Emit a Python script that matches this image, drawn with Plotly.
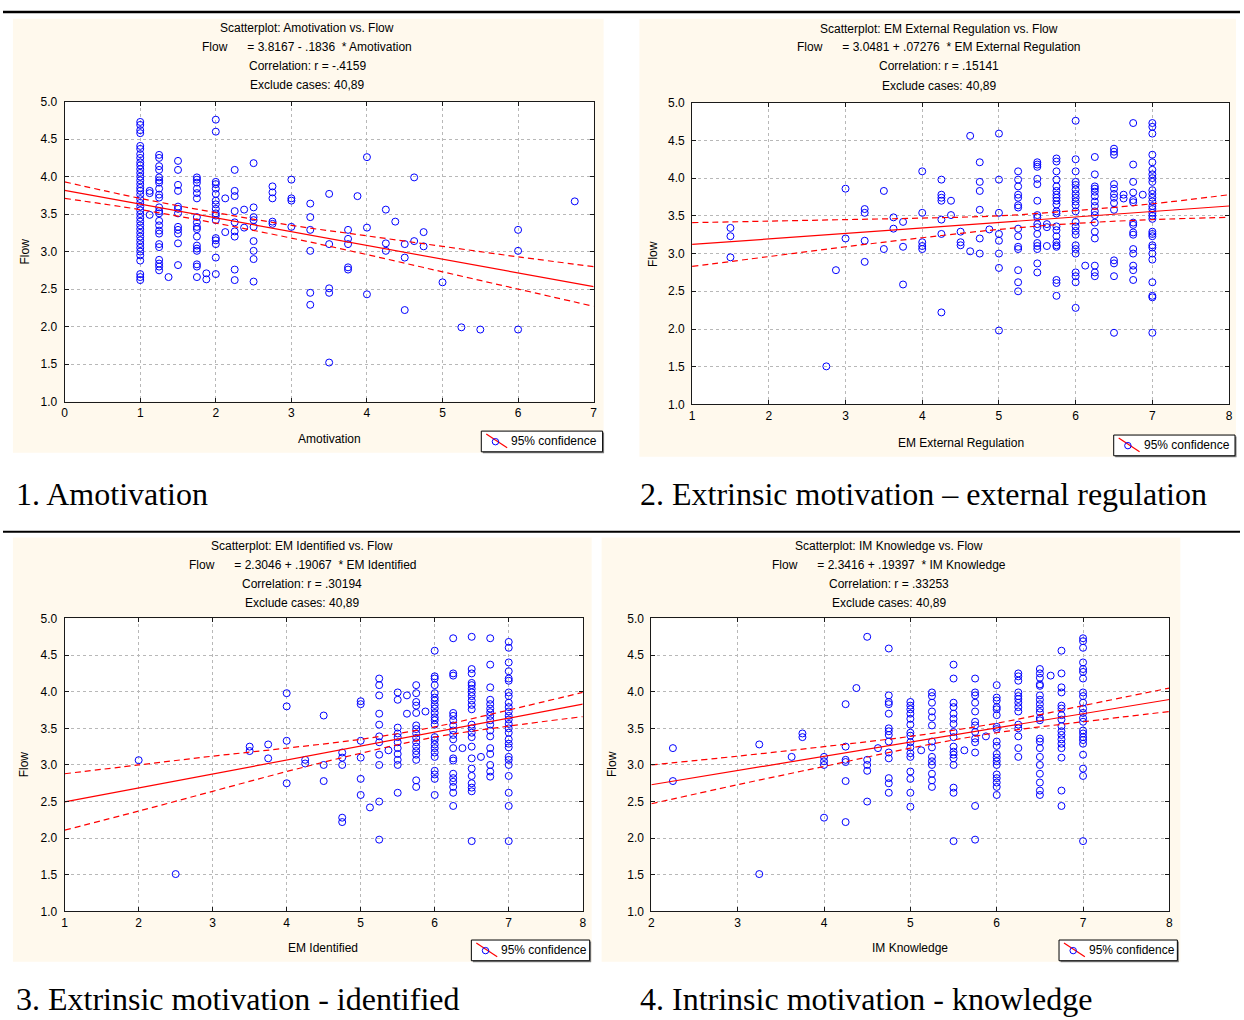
import plotly.graph_objects as go

W, H = 1244, 1020
SANS = "Liberation Sans, Arial, sans-serif"
SERIF = "Liberation Serif, Times New Roman, serif"

# ---------------- data ----------------
# Panel 1: Amotivation vs Flow
amot_cols = [1.0, 1.125, 1.25, 1.375, 1.5, 1.75, 1.875, 2.0, 2.125, 2.25, 2.375, 2.5, 2.75, 3.0,
             3.25, 3.5, 3.75, 3.875, 4.0, 4.25, 4.375, 4.5, 4.625, 4.75, 5.0, 5.25, 5.5, 6.0, 6.75]
amot_flow = [
    [4.73, 4.69, 4.62, 4.58, 4.41, 4.37, 4.30, 4.25, 4.19, 4.15, 4.10, 4.05, 4.00, 3.95, 3.90, 3.85,
     3.81, 3.76, 3.70, 3.65, 3.60, 3.55, 3.50, 3.45, 3.40, 3.35, 3.30, 3.25, 3.20, 3.15, 3.10, 3.05,
     3.00, 2.95, 2.88, 2.70, 2.66, 2.62],
    [3.81, 3.78, 3.49],
    [4.29, 4.25, 4.14, 4.09, 3.99, 3.95, 3.92, 3.84, 3.76, 3.72, 3.59, 3.54, 3.51, 3.41, 3.35, 3.28,
     3.24, 3.10, 3.06, 2.89, 2.84, 2.80, 2.75],
    [2.66],
    [4.21, 4.09, 3.89, 3.81, 3.60, 3.57, 3.51, 3.33, 3.29, 3.24, 3.11, 2.82],
    [3.99, 3.96, 3.92, 3.84, 3.78, 3.71, 3.46, 3.39, 3.33, 3.30, 3.20, 3.08, 3.04, 3.01, 2.83, 2.80, 2.66],
    [2.71, 2.63],
    [4.76, 4.60, 3.93, 3.90, 3.84, 3.77, 3.68, 3.63, 3.57, 3.51, 3.48, 3.42, 3.18, 3.15, 3.10, 2.92, 2.70],
    [3.71, 3.26],
    [4.09, 3.81, 3.74, 3.54, 3.39, 3.27, 3.20, 2.76, 2.62],
    [3.56, 3.32],
    [4.18, 3.59, 3.46, 3.42, 3.33, 3.14, 3.01, 2.90, 2.60],
    [3.87, 3.79, 3.71, 3.40, 3.37],
    [3.96, 3.71, 3.68, 3.33],
    [3.64, 3.46, 3.29, 3.01, 2.45, 2.29],
    [3.77, 3.10, 2.51, 2.45, 1.52],
    [3.29, 3.17, 3.10, 2.79, 2.76],
    [3.74],
    [4.26, 3.32, 2.43],
    [3.56, 3.11, 3.01],
    [3.40],
    [3.10, 2.92, 2.22],
    [3.99, 3.14],
    [3.26, 3.07],
    [2.59],
    [1.99],
    [1.96],
    [3.29, 3.01, 1.96],
    [3.67],
]

# Panel 2: EM External Regulation vs Flow
ext_cols = [1.5, 2.75, 2.875, 3.0, 3.25, 3.5, 3.625, 3.75, 4.0, 4.25, 4.375, 4.5, 4.625, 4.75, 4.875,
            5.0, 5.25, 5.5, 5.625, 5.75, 6.0, 6.125, 6.25, 6.5, 6.625, 6.75, 6.875, 7.0]
ext_flow = [
    [3.34, 3.23, 2.95],
    [1.505],
    [2.78],
    [3.86, 3.20],
    [3.59, 3.54, 3.17, 2.89],
    [3.83, 3.06],
    [3.48, 3.33],
    [3.42, 3.09, 2.59],
    [4.09, 3.54, 3.15, 3.10, 3.06],
    [3.98, 3.78, 3.74, 3.70, 3.45, 3.26, 2.22],
    [3.70, 3.51],
    [3.29, 3.15, 3.11],
    [4.56, 3.03],
    [4.21, 3.95, 3.83, 3.58, 3.20, 3.00],
    [3.32],
    [4.59, 3.98, 3.54, 3.26, 3.17, 3.00, 2.81, 1.98],
    [4.09, 3.98, 3.89, 3.78, 3.74, 3.64, 3.61, 3.33, 3.23, 3.09, 3.06, 2.78, 2.62, 2.50],
    [4.21, 4.18, 4.15, 3.99, 3.92, 3.70, 3.51, 3.48, 3.39, 3.35, 3.26, 3.14, 3.10, 3.06, 2.87, 2.75],
    [3.39, 3.35, 3.10],
    [4.26, 4.22, 4.09, 3.98, 3.89, 3.83, 3.78, 3.74, 3.70, 3.65, 3.56, 3.53, 3.36, 3.31, 3.23, 3.15,
     3.11, 3.09, 2.65, 2.61, 2.44],
    [4.76, 4.25, 4.09, 3.95, 3.91, 3.85, 3.79, 3.74, 3.69, 3.64, 3.56, 3.42, 3.36, 3.30, 3.25, 3.11,
     3.06, 3.00, 2.75, 2.70, 2.62, 2.28],
    [2.84],
    [4.28, 4.05, 3.89, 3.86, 3.82, 3.76, 3.69, 3.63, 3.56, 3.51, 3.41, 3.29, 3.20, 2.84, 2.75, 2.70],
    [4.39, 4.35, 4.31, 3.92, 3.86, 3.79, 3.74, 3.67, 3.58, 2.91, 2.87, 2.70, 1.95],
    [3.78, 3.73],
    [4.73, 4.18, 3.95, 3.81, 3.71, 3.68, 3.41, 3.38, 3.28, 3.25, 3.06, 3.00, 2.84, 2.78, 2.65],
    [3.78],
    [4.73, 4.68, 4.59, 4.31, 4.21, 4.11, 4.05, 4.00, 3.95, 3.84, 3.79, 3.74, 3.69, 3.63, 3.59, 3.54,
     3.50, 3.46, 3.29, 3.26, 3.23, 3.11, 3.08, 3.00, 2.92, 2.62, 2.44, 2.42, 1.95],
]

# Panel 3: EM Identified vs Flow
ident_cols = [2.0, 2.5, 3.5, 3.75, 4.0, 4.25, 4.5, 4.75, 5.0, 5.125, 5.25, 5.375, 5.5, 5.625, 5.75,
              5.875, 6.0, 6.25, 6.375, 6.5, 6.625, 6.75, 7.0]
ident_flow = [
    [3.065],
    [1.51],
    [3.25, 3.19],
    [3.28, 3.09],
    [3.98, 3.80, 3.33, 2.75],
    [3.07, 3.02],
    [3.675, 3.00, 2.78],
    [3.17, 3.10, 3.00, 2.28, 2.22],
    [3.87, 3.83, 3.33, 3.10, 2.81, 2.59],
    [2.42],
    [4.18, 4.09, 3.95, 3.70, 3.55, 3.39, 3.31, 3.14, 3.00, 2.50, 1.98],
    [3.20],
    [3.99, 3.89, 3.51, 3.43, 3.38, 3.31, 3.23, 3.15, 3.07, 3.00, 2.62],
    [3.95, 3.70],
    [4.09, 3.98, 3.86, 3.81, 3.71, 3.54, 3.49, 3.43, 3.37, 3.31, 3.25, 3.19, 3.14, 3.07, 2.79, 2.70],
    [3.73],
    [4.56, 4.21, 4.18, 4.09, 3.98, 3.92, 3.88, 3.82, 3.77, 3.71, 3.65, 3.61, 3.55, 3.38, 3.34, 3.28,
     3.23, 3.17, 3.11, 2.92, 2.87, 2.81, 2.59],
    [4.73, 4.25, 4.22, 3.71, 3.67, 3.61, 3.54, 3.47, 3.41, 3.35, 3.23, 3.09, 3.06, 2.88, 2.82, 2.77,
     2.70, 2.62, 2.44],
    [3.23],
    [4.75, 4.31, 4.25, 4.12, 4.09, 4.04, 3.99, 3.94, 3.88, 3.82, 3.76, 3.55, 3.50, 3.44, 3.38, 3.25,
     3.09, 2.95, 2.85, 2.75, 2.69, 2.64, 1.96],
    [3.11],
    [4.73, 4.37, 4.06, 3.89, 3.83, 3.77, 3.72, 3.67, 3.61, 3.55, 3.47, 3.39, 3.23, 3.15, 3.00, 2.91, 2.84],
    [4.68, 4.60, 4.40, 4.28, 4.18, 4.15, 3.99, 3.94, 3.85, 3.79, 3.73, 3.67, 3.62, 3.56, 3.50, 3.44,
     3.35, 3.29, 3.24, 3.11, 3.07, 3.00, 2.85, 2.62, 2.44, 1.96],
]

# Panel 4: IM Knowledge vs Flow
know_cols = [2.25, 3.25, 3.625, 3.75, 4.0, 4.25, 4.375, 4.5, 4.625, 4.75, 5.0, 5.125, 5.25, 5.5, 5.625,
             5.75, 5.875, 6.0, 6.25, 6.5, 6.625, 6.75, 7.0]
know_flow = [
    [3.23, 2.78],
    [3.28, 1.51],
    [3.11],
    [3.43, 3.38],
    [3.11, 3.05, 3.00, 2.28],
    [3.83, 3.25, 3.07, 3.04, 2.78, 2.22],
    [4.05],
    [4.75, 3.07, 3.00, 2.92, 2.50],
    [3.23],
    [4.59, 3.95, 3.86, 3.83, 3.70, 3.50, 3.46, 3.41, 3.32, 3.17, 3.09, 2.82, 2.75, 2.62],
    [3.86, 3.81, 3.76, 3.70, 3.63, 3.55, 3.44, 3.40, 3.31, 3.24, 3.16, 3.11, 2.91, 2.81, 2.62, 2.43],
    [3.20],
    [3.99, 3.94, 3.85, 3.73, 3.65, 3.54, 3.32, 3.24, 3.11, 3.05, 3.00, 2.88, 2.79, 2.70],
    [4.37, 4.18, 3.85, 3.79, 3.70, 3.63, 3.56, 3.45, 3.38, 3.25, 3.18, 3.14, 3.09, 3.00, 2.69, 2.62, 1.96],
    [3.20],
    [4.18, 3.99, 3.95, 3.85, 3.73, 3.59, 3.54, 3.45, 3.36, 3.31, 3.17, 2.44, 1.98],
    [3.39],
    [4.09, 3.92, 3.88, 3.79, 3.76, 3.68, 3.52, 3.49, 3.32, 3.26, 3.15, 3.10, 3.05, 3.00, 2.87, 2.82,
     2.76, 2.70, 2.59],
    [4.25, 4.21, 4.15, 3.99, 3.94, 3.90, 3.85, 3.79, 3.73, 3.55, 3.50, 3.39, 3.23, 3.11],
    [4.31, 4.25, 4.19, 4.10, 4.08, 3.95, 3.89, 3.83, 3.77, 3.72, 3.64, 3.61, 3.36, 3.32, 3.23, 3.11,
     3.00, 2.88, 2.76, 2.65, 2.59],
    [4.22],
    [4.56, 4.25, 4.06, 3.99, 3.81, 3.77, 3.68, 3.62, 3.53, 3.46, 3.41, 3.35, 3.29, 3.23, 3.10, 2.65, 2.44],
    [4.73, 4.69, 4.60, 4.40, 4.31, 4.27, 4.18, 3.99, 3.94, 3.85, 3.77, 3.71, 3.64, 3.59, 3.47, 3.43,
     3.38, 3.34, 3.29, 3.14, 2.95, 2.85, 1.96],
]

# regression coefficients (from the chart text)
intercepts = [3.8167, 3.0481, 2.3046, 2.3416]
slopes = [-0.1836, 0.07276, 0.19067, 0.19397]
slope_labels = [".1836", ".07276", ".19067", ".19397"]
correlations = ["-.4159", ".15141", ".30194", ".33253"]

# 95% confidence band
amot_band_x = [0, 1, 2, 3, 4, 5, 6, 7]
amot_band_hi = [3.93, 3.71, 3.52, 3.35, 3.21, 3.07, 2.93, 2.80]
amot_band_lo = [3.71, 3.56, 3.38, 3.18, 2.96, 2.73, 2.50, 2.27]
ext_band_x = [1, 2, 3, 4, 5, 6, 7, 8]
ext_band_hi = [3.41, 3.43, 3.45, 3.47, 3.50, 3.57, 3.66, 3.78]
ext_band_lo = [2.83, 2.96, 3.09, 3.21, 3.32, 3.40, 3.45, 3.48]
ident_band_x = [1, 2, 3, 4, 5, 6, 7, 8]
ident_band_hi = [2.88, 3.00, 3.12, 3.23, 3.35, 3.52, 3.75, 3.99]
ident_band_lo = [2.11, 2.37, 2.64, 2.91, 3.16, 3.38, 3.53, 3.66]
know_band_x = [2, 3, 4, 5, 6, 7, 8]
know_band_hi = [3.00, 3.12, 3.25, 3.39, 3.57, 3.81, 4.05]
know_band_lo = [2.47, 2.73, 2.98, 3.23, 3.44, 3.59, 3.73]

var_names = ["Amotivation", "EM External Regulation", "EM Identified", "IM Knowledge"]
captions = ["1. Amotivation", "2. Extrinsic motivation \u2013 external regulation",
            "3. Extrinsic motivation - identified", "4. Intrinsic motivation - knowledge"]
y_ticks = [1.0, 1.5, 2.0, 2.5, 3.0, 3.5, 4.0, 4.5, 5.0]

# ---------------- layout helpers ----------------
def px(v):
    return v / W


def py(v):
    return 1 - v / H


def expand(cols, groups):
    xs, ys = [], []
    for c, g in zip(cols, groups):
        xs += [c] * len(g)
        ys += list(g)
    return xs, ys


panels = [
    dict(cols=amot_cols, flow=amot_flow, bx=amot_band_x, bhi=amot_band_hi, blo=amot_band_lo,
         xr=[0, 7], plot=(62, 96, 594, 400), bg=(10, 12, 604, 452), tx=306, ty=[21, 41, 60, 79],
         xt=(328, 438), yt=(22, 248), leg=(481, 430, 603, 451), cap=(11, 494)),
    dict(cols=ext_cols, flow=ext_flow, bx=ext_band_x, bhi=ext_band_hi, blo=ext_band_lo,
         xr=[1, 8], plot=(693, 97, 1233, 403), bg=(640, 12, 1240, 456), tx=941, ty=[22, 41, 60, 80],
         xt=(963, 442), yt=(653, 250), leg=(1117, 434, 1239, 455), cap=(639, 494)),
    dict(cols=ident_cols, flow=ident_flow, bx=ident_band_x, bhi=ident_band_hi, blo=ident_band_lo,
         xr=[1, 8], plot=(62, 620, 583, 917), bg=(10, 538, 592, 968), tx=301, ty=[547, 566, 585, 604],
         xt=(322, 954), yt=(22, 768), leg=(471, 946, 590, 967), cap=(11, 1006)),
    dict(cols=know_cols, flow=know_flow, bx=know_band_x, bhi=know_band_hi, blo=know_band_lo,
         xr=[2, 8], plot=(652, 620, 1173, 917), bg=(602, 538, 1184, 968), tx=891, ty=[547, 566, 585, 604],
         xt=(912, 954), yt=(613, 768), leg=(1062, 946, 1181, 967), cap=(639, 1006)),
]

fig = go.Figure()
shapes = []
annotations = []
layout_axes = {}

# separator rules
shapes.append(dict(type="line", xref="paper", yref="paper", x0=0, x1=1, y0=py(5), y1=py(5),
                   line=dict(color="black", width=2.5), layer="above"))
shapes.append(dict(type="line", xref="paper", yref="paper", x0=0, x1=1, y0=py(532), y1=py(532),
                   line=dict(color="black", width=2), layer="above"))

for i, p in enumerate(panels):
    k = "" if i == 0 else str(i + 1)
    xa, ya = "x" + k, "y" + k
    x0, y0, x1, y1 = p["plot"]
    bx0, by0, bx1, by1 = p["bg"]
    name = var_names[i]

    # beige panel and white plotting area
    shapes.append(dict(type="rect", xref="paper", yref="paper", x0=px(bx0), x1=px(bx1),
                       y0=py(by1), y1=py(by0), fillcolor="#FFF9ED", line=dict(width=0), layer="below"))
    shapes.append(dict(type="rect", xref="paper", yref="paper", x0=px(x0), x1=px(x1),
                       y0=py(y1), y1=py(y0), fillcolor="white", line=dict(width=0), layer="below"))

    xs, ys = expand(p["cols"], p["flow"])
    fig.add_trace(go.Scatter(x=xs, y=ys, mode="markers", xaxis=xa, yaxis=ya, showlegend=False,
                             marker=dict(symbol="circle-open", size=7, color="#0000FF",
                                         line=dict(width=1, color="#0000FF"))))
    lx = p["xr"]
    fig.add_trace(go.Scatter(x=lx, y=[intercepts[i] + slopes[i] * v for v in lx], mode="lines",
                             xaxis=xa, yaxis=ya, showlegend=False,
                             line=dict(color="#FF0000", width=1.2)))
    for band in (p["bhi"], p["blo"]):
        fig.add_trace(go.Scatter(x=p["bx"], y=band, mode="lines", xaxis=xa, yaxis=ya, showlegend=False,
                                 line=dict(color="#FF0000", width=1.2, dash="6px,4px", shape="spline")))

    axis_common = dict(showgrid=True, gridcolor="#B8B8B8", griddash="dot", gridwidth=1,
                       zeroline=False, showline=True, linecolor="#1A1A1A", linewidth=1,
                       mirror="ticks", ticks="inside", ticklen=4, tickcolor="#1A1A1A",
                       tickfont=dict(family=SANS, size=12, color="black"), fixedrange=True)
    layout_axes["xaxis" + k] = dict(axis_common, domain=[px(x0), px(x1)], range=lx, anchor=ya,
                                    tickmode="array", tickvals=list(range(lx[0], lx[1] + 1)))
    layout_axes["yaxis" + k] = dict(axis_common, domain=[py(y1), py(y0)], range=[1, 5], anchor=xa,
                                    tickmode="array", tickvals=y_ticks, ticklabelstandoff=4,
                                    ticktext=["%.1f" % v for v in y_ticks])

    # title block
    sign = "-" if slopes[i] < 0 else "+"
    lines = [
        "Scatterplot: %s vs. Flow" % name,
        "Flow" + "\u00a0" * 6 + "= %.4f %s %s \u00a0* %s" % (intercepts[i], sign, slope_labels[i], name),
        "Correlation: r = %s" % correlations[i],
        "Exclude cases: 40,89",
    ]
    for t, yy in zip(lines, p["ty"]):
        annotations.append(dict(text=t, x=px(p["tx"]), y=py(yy), xref="paper", yref="paper",
                                showarrow=False, xanchor="center", yanchor="middle",
                                font=dict(family=SANS, size=12, color="black")))
    # axis titles
    annotations.append(dict(text=name, x=px(p["xt"][0]), y=py(p["xt"][1]), xref="paper", yref="paper",
                            showarrow=False, xanchor="center", yanchor="middle",
                            font=dict(family=SANS, size=12, color="black")))
    annotations.append(dict(text="Flow", x=px(p["yt"][0]), y=py(p["yt"][1]), xref="paper", yref="paper",
                            showarrow=False, xanchor="center", yanchor="middle", textangle=-90,
                            font=dict(family=SANS, size=12, color="black")))
    # legend box
    gx0, gy0, gx1, gy1 = p["leg"]
    shapes.append(dict(type="rect", xref="paper", yref="paper", x0=px(gx0 + 1.5), x1=px(gx1 + 1.5),
                       y0=py(gy1 + 1.5), y1=py(gy0 + 1.5), fillcolor="#808080", line=dict(width=0),
                       layer="above"))
    shapes.append(dict(type="rect", xref="paper", yref="paper", x0=px(gx0), x1=px(gx1),
                       y0=py(gy1), y1=py(gy0), fillcolor="white", line=dict(color="black", width=1),
                       layer="above"))
    shapes.append(dict(type="line", xref="paper", yref="paper", x0=px(gx0 + 5), x1=px(gx0 + 26),
                       y0=py(gy0 + 3), y1=py(gy0 + 17), line=dict(color="#FF0000", width=1.2),
                       layer="above"))
    shapes.append(dict(type="circle", xref="paper", yref="paper", x0=px(gx0 + 11), x1=px(gx0 + 17.5),
                       y0=py(gy0 + 14), y1=py(gy0 + 7.5), line=dict(color="#0000FF", width=1),
                       fillcolor="rgba(0,0,0,0)", layer="above"))
    annotations.append(dict(text="95% confidence", x=px(gx0 + 28), y=py((gy0 + gy1) / 2),
                            xref="paper", yref="paper", showarrow=False, xanchor="left", yanchor="middle",
                            font=dict(family=SANS, size=12, color="black")))
    # caption
    annotations.append(dict(text=captions[i], x=px(p["cap"][0]), y=py(p["cap"][1]), xref="paper",
                            yref="paper", showarrow=False, xanchor="left", yanchor="middle",
                            font=dict(family=SERIF, size=32, color="black")))

fig.update_layout(
    width=W, height=H, autosize=False,
    margin=dict(l=0, r=0, t=0, b=0),
    paper_bgcolor="white", plot_bgcolor="rgba(0,0,0,0)",
    showlegend=False, shapes=shapes, annotations=annotations,
    **layout_axes,
)

fig.write_html("out.html", config={"displayModeBar": False},
               post_script="document.body.style.margin='0px';document.body.style.overflow='hidden';")
